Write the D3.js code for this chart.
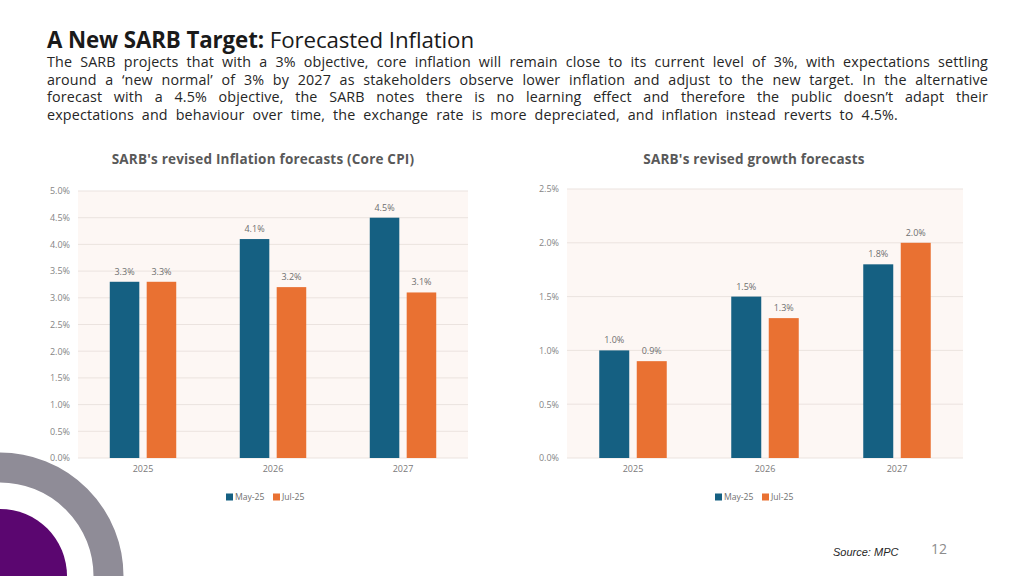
<!DOCTYPE html>
<html><head><meta charset="utf-8">
<script src="https://cdn.jsdelivr.net/npm/d3@7"></script>
<style>
html,body{margin:0;padding:0;background:#fff;width:1024px;height:576px;overflow:hidden;font-family:"Open Sans",sans-serif;}
#hdr{position:absolute;left:47px;top:29px;width:941px;color:#1a1a1a;}
#title{font-size:22.3px;line-height:22px;white-space:nowrap;letter-spacing:-0.1px;}
#title b{font-weight:700;}
#para{font-size:14.3px;line-height:17.5px;color:#262626;padding-top:2px;letter-spacing:0.15px;}
#para div{text-align:justify;text-align-last:justify;white-space:nowrap;}
#para div.last{width:851px;}
svg{position:absolute;left:0;top:0;}
</style></head>
<body>
<svg id="chart" width="1024" height="576"></svg>
<div id="hdr"><div id="title"></div><div id="para"></div></div>
<script>
const headBold = "A New SARB Target:";
const headRest = " Forecasted Inflation";
const paraLines = [
 "The SARB projects that with a 3% objective, core inflation will remain close to its current level of 3%, with expectations settling",
 "around a \u2018new normal\u2019 of 3% by 2027 as stakeholders observe lower inflation and adjust to the new target. In the alternative",
 "forecast with a 4.5% objective, the SARB notes there is no learning effect and therefore the public doesn\u2019t adapt their",
 "expectations and behaviour over time, the exchange rate is more depreciated, and inflation instead reverts to 4.5%."
];
const years = ["2025","2026","2027"];
const seriesNames = ["May-25","Jul-25"];
const inflMay = [3.3,4.1,4.5];
const inflJul = [3.3,3.2,3.1];
const growthMay = [1.0,1.5,1.8];
const growthJul = [0.9,1.3,2.0];
const inflTicks = [0,0.5,1,1.5,2,2.5,3,3.5,4,4.5,5];
const growthTicks = [0,0.5,1,1.5,2,2.5];
const colors = ["#156082","#E97132"];
const titles = ["SARB's revised Inflation forecasts (Core CPI)","SARB's revised growth forecasts"];

d3.select("#title").html("<b>"+headBold+"</b>"+headRest);
d3.select("#para").selectAll("div").data(paraLines).join("div")
  .classed("last",(d,i)=>i===paraLines.length-1).text(d=>d);

const svg = d3.select("#chart");
// decorative circles
svg.append("circle").attr("cx",0).attr("cy",576).attr("r",108.5)
  .attr("fill","none").attr("stroke","#8f8c97").attr("stroke-width",30);
svg.append("circle").attr("cx",0).attr("cy",576).attr("r",67).attr("fill","#5b0670");

const ff = "Open Sans, sans-serif";
function drawChart(cfg){
  const g = svg.append("g");
  const x = d3.scaleBand().domain(years).range([cfg.x0,cfg.x1]);
  const xs = d3.scaleBand().domain(seriesNames).range([0,x.bandwidth()]).paddingInner(0.2).paddingOuter(0.86);
  const y = d3.scaleLinear().domain([0,cfg.max]).range([cfg.yb,cfg.yt]);
  g.append("rect").attr("x",cfg.x0).attr("y",y(cfg.max)).attr("width",cfg.x1-cfg.x0)
    .attr("height",y(0)-y(cfg.max)).attr("fill","#fdf7f4");
  g.selectAll("line.grid").data(cfg.ticks).join("line").attr("class","grid")
    .attr("x1",cfg.x0).attr("x2",cfg.x1).attr("y1",d=>y(d)).attr("y2",d=>y(d))
    .attr("stroke","#ebe3df").attr("stroke-width",1);
  const yAxis = d3.axisLeft(y).tickValues(cfg.ticks).tickFormat(d=>d3.format(".1f")(d)+"%").tickSize(0).tickPadding(8);
  const ya = g.append("g").attr("transform",`translate(${cfg.x0},0)`).call(yAxis);
  ya.select(".domain").remove();
  ya.selectAll("text").attr("fill","#858585").attr("font-size","9px").attr("font-family",ff);
  const xAxis = d3.axisBottom(x).tickSize(0).tickPadding(8);
  const xa = g.append("g").attr("transform",`translate(0,${cfg.yb})`).call(xAxis);
  xa.select(".domain").remove();
  xa.selectAll("text").attr("fill","#7a7a7a").attr("font-size","9px").attr("font-family",ff);
  const data = [];
  years.forEach((yr,i)=>{ cfg.vals.forEach((arr,s)=>data.push({yr,s,v:arr[i]})); });
  g.selectAll("rect.bar").data(data).join("rect").attr("class","bar")
    .attr("x",d=>x(d.yr)+xs(seriesNames[d.s])).attr("width",xs.bandwidth())
    .attr("y",d=>y(d.v)).attr("height",d=>y(0)-y(d.v)).attr("fill",d=>colors[d.s]);
  g.selectAll("text.lbl").data(data).join("text").attr("class","lbl")
    .attr("x",d=>x(d.yr)+xs(seriesNames[d.s])+xs.bandwidth()/2).attr("y",d=>y(d.v)-7)
    .attr("text-anchor","middle").attr("font-size","9px").attr("fill","#6f6f6f")
    .attr("font-family",ff).text(d=>d3.format(".1f")(d.v)+"%");
  g.append("text").attr("x",cfg.tx).attr("y",164).attr("text-anchor","middle")
    .attr("font-size","13.5px").attr("font-weight","700").attr("fill","#595959").attr("letter-spacing","0.2px")
    .attr("font-family",ff).text(cfg.title);
  const lg = g.append("g").attr("transform",`translate(${cfg.lx},497)`);
  const items = lg.selectAll("g").data(seriesNames).join("g")
    .attr("transform",(d,i)=>`translate(${i*47},0)`);
  items.append("rect").attr("x",0).attr("y",-3.5).attr("width",7).attr("height",7).attr("fill",(d,i)=>colors[i]);
  items.append("text").attr("x",9).attr("y",3.2).attr("font-size","8.6px").attr("fill","#6f6f6f")
    .attr("font-family",ff).text(d=>d);
}
drawChart({x0:78,x1:468,yt:191,yb:458,max:5,ticks:inflTicks,vals:[inflMay,inflJul],title:titles[0],tx:263,lx:226});
drawChart({x0:567,x1:963,yt:189,yb:458,max:2.5,ticks:growthTicks,vals:[growthMay,growthJul],title:titles[1],tx:754,lx:715});

svg.append("text").attr("x",833).attr("y",556).attr("font-size","11px").attr("font-style","italic")
  .attr("fill","#262626").attr("font-family","Liberation Sans, Arial, sans-serif").text("Source: MPC");
svg.append("text").attr("x",931).attr("y",554).attr("font-size","14px")
  .attr("fill","#8c8c8c").attr("font-family","Open Sans, sans-serif").text("12");
</script>
</body></html>
